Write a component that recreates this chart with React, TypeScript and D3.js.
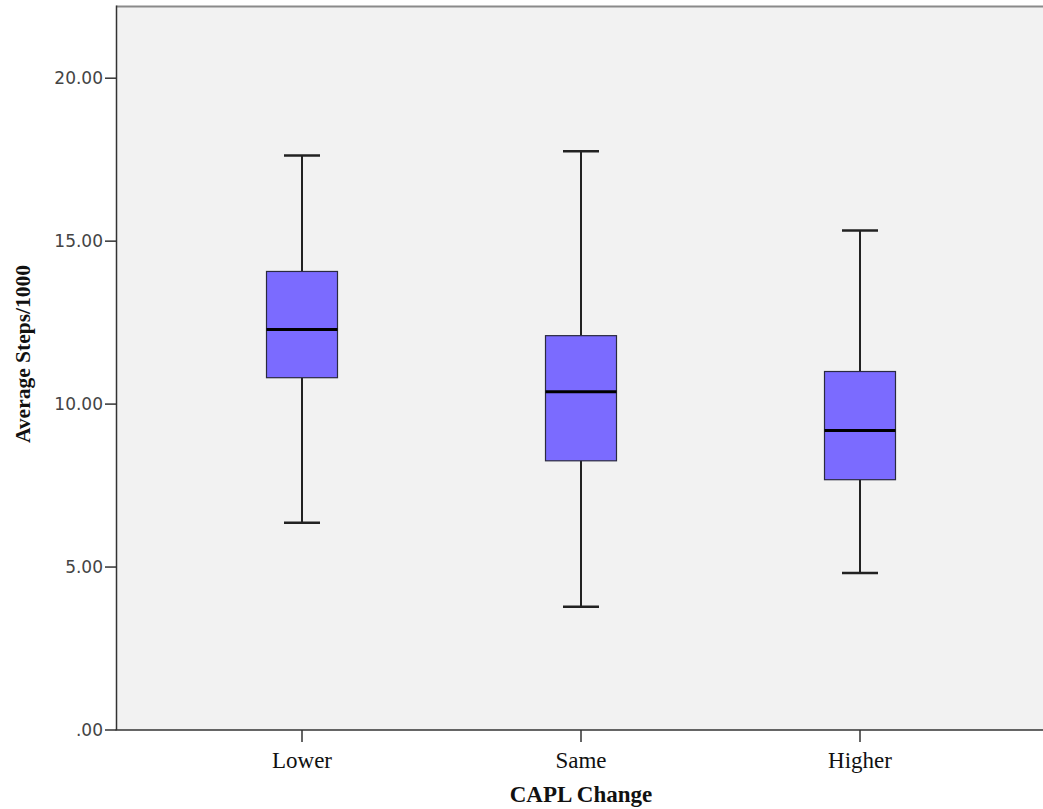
import React from "react";
import * as d3 from "d3";

const categories = ["Lower", "Same", "Higher"];
const whiskerMin = [6.36, 3.78, 4.82];
const q1Values = [10.81, 8.26, 7.68];
const medianValues = [12.29, 10.38, 9.19];
const q3Values = [14.07, 12.1, 11.0];
const whiskerMax = [17.63, 17.76, 15.33];
const yTicks = [0, 5, 10, 15, 20];
const yTickLabels = [".00", "5.00", "10.00", "15.00", "20.00"];
const xTitle = "CAPL Change";
const yTitle = "Average Steps/1000";

export default function App() {
  const W = 1043, H = 809;
  const left = 116.5, top = 6.5, bottom = 730, right = 1046;
  const y = d3.scaleLinear().domain([0, 22.2]).range([bottom, top]);
  const x = d3.scalePoint<string>().domain(categories).range([302, 860]);
  const boxW = 71, capW = 36;
  const serif = "'Liberation Serif', 'Times New Roman', serif";
  return (
    <svg width={W} height={H} style={{ position: "absolute", left: 0, top: 0 }}>
      <rect x={0} y={0} width={W} height={H} fill="#fff" />
      <rect x={left} y={top} width={right - left} height={bottom - top} fill="#f2f2f2" />
      <line x1={left} x2={right} y1={top} y2={top} stroke="#8a8a8a" strokeWidth={2} />
      <line x1={left} x2={left} y1={top - 1} y2={bottom} stroke="#333" strokeWidth={1.5} />
      <line x1={left - 1} x2={right} y1={bottom} y2={bottom} stroke="#333" strokeWidth={1.5} />
      {yTicks.map((t, i) => (
        <g key={t}>
          <line x1={105} x2={left} y1={y(t)} y2={y(t)} stroke="#333" strokeWidth={1.5} />
          <text x={103} y={y(t)} dy="0.36em" textAnchor="end" fontFamily="'DejaVu Sans', sans-serif" fontSize={17} fill="#444">
            {yTickLabels[i]}
          </text>
        </g>
      ))}
      {categories.map((c, i) => {
        const cx = x(c)!;
        return (
          <g key={c}>
            <line x1={cx} x2={cx} y1={bottom} y2={bottom + 12} stroke="#333" strokeWidth={1.5} />
            <text x={cx} y={768} textAnchor="middle" fontFamily={serif} fontSize={23} fill="#111">
              {c}
            </text>
            <line x1={cx} x2={cx} y1={y(whiskerMax[i])} y2={y(q3Values[i])} stroke="#222" strokeWidth={2} />
            <line x1={cx} x2={cx} y1={y(q1Values[i])} y2={y(whiskerMin[i])} stroke="#222" strokeWidth={2} />
            <line x1={cx - capW / 2} x2={cx + capW / 2} y1={y(whiskerMax[i])} y2={y(whiskerMax[i])} stroke="#222" strokeWidth={2.5} />
            <line x1={cx - capW / 2} x2={cx + capW / 2} y1={y(whiskerMin[i])} y2={y(whiskerMin[i])} stroke="#222" strokeWidth={2.5} />
            <rect x={cx - boxW / 2} y={y(q3Values[i])} width={boxW} height={y(q1Values[i]) - y(q3Values[i])} fill="#7b6bff" stroke="#2a2a40" strokeWidth={1.2} />
            <line x1={cx - boxW / 2} x2={cx + boxW / 2} y1={y(medianValues[i])} y2={y(medianValues[i])} stroke="#000" strokeWidth={3} />
          </g>
        );
      })}
      <text x={581} y={802} textAnchor="middle" fontFamily={serif} fontWeight="bold" fontSize={23} fill="#111">
        {xTitle}
      </text>
      <text transform={`translate(30, 354) rotate(-90)`} textAnchor="middle" fontFamily={serif} fontWeight="bold" fontSize={21.5} fill="#111">
        {yTitle}
      </text>
    </svg>
  );
}
